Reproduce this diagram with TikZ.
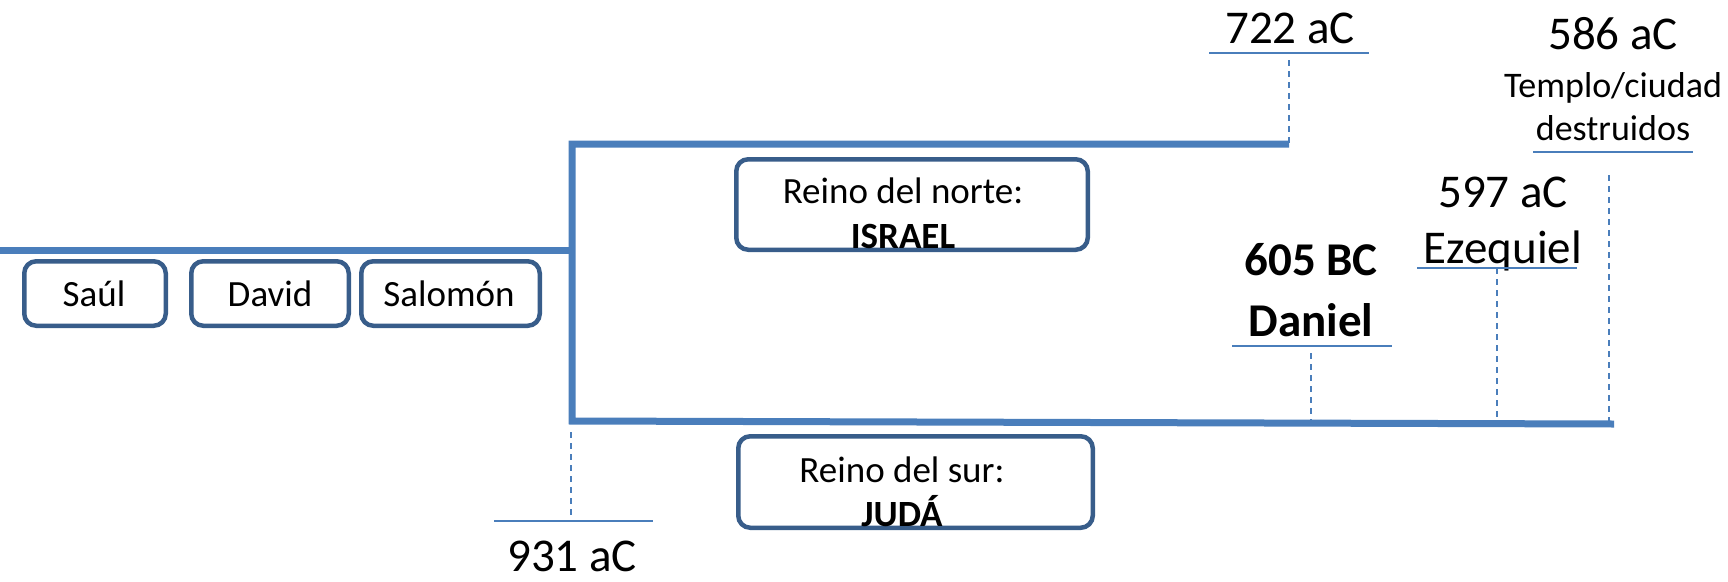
\documentclass[tikz,border=0pt]{standalone}
\usepackage{fontspec}
\setmainfont{Carlito}
\definecolor{lineblue}{HTML}{4A7EBB}
\definecolor{boxblue}{HTML}{385D8A}
\begin{document}
\begin{tikzpicture}[x=1pt,y=-1pt,
  mainline/.style={draw=lineblue,line width=7pt,line join=miter},
  tickline/.style={draw=lineblue,line width=1.6pt},
  guide/.style={draw=lineblue,line width=1.6pt,dash pattern=on 6pt off 5pt},
  kbox/.style={draw=boxblue,line width=4.5pt,rounded corners=12pt,fill=white,inner sep=0pt,minimum height=64.5pt},
  bigtxt/.style={font=\fontsize{47}{56}\selectfont,inner sep=0pt,anchor=base},
  bigbold/.style={font=\fontsize{47}{56}\selectfont\bfseries,inner sep=0pt,anchor=base},
  boxtxt/.style={font=\fontsize{37}{44}\selectfont,inner sep=0pt,anchor=base},
  boxbold/.style={font=\fontsize{37}{44}\selectfont\bfseries,inner sep=0pt,anchor=base},
  midtxt/.style={font=\fontsize{36}{43}\selectfont,inner sep=0pt,anchor=base}]
\useasboundingbox (0,0) rectangle (1728,581);

% main timeline
\coordinate (L0) at (0,250);
\coordinate (J) at (572,250);
\coordinate (Vt) at (572,144);
\coordinate (Vb) at (572,421);
\coordinate (T1) at (1289,144);
\coordinate (B1) at (1614,424);
\draw[mainline] (L0) -- (J);
\draw[mainline] (T1) -- (Vt) -- (Vb) -- (B1);

% kings boxes
\node[kbox,minimum width=141.5pt] (saulbox) at (95,293.5) {};
\node[kbox,minimum width=157.5pt] (davidbox) at (270,293.5) {};
\node[kbox,minimum width=178.5pt] (salbox) at (450.5,293.5) {};
\node[boxtxt] (saul) at (94,306) {Saúl};
\node[boxtxt] (david) at (270,306) {David};
\node[boxtxt] (salomon) at (449,306) {Salomón};

% kingdoms
\node[kbox,minimum width=351.5pt,minimum height=90.5pt] (nortebox) at (912,204.5) {};
\node[boxtxt] (norte1) at (903,203) {Reino del norte:};
\node[boxbold] (norte2) at (903,248) {ISRAEL};
\node[kbox,minimum width=354.5pt,minimum height=91.5pt] (surbox) at (915.5,482) {};
\node[boxtxt] (sur1) at (902,482) {Reino del sur:};
\node[boxbold] (sur2) at (902,526) {JUDÁ};

% 722 aC
\node[bigtxt] (t722) at (1290,43) {722 aC};
\coordinate (u722a) at (1209,52.7);
\coordinate (u722b) at (1369,52.7);
\coordinate (d722) at (1289,60);
\draw[tickline] (u722a) -- (u722b);
\draw[guide] (d722) -- (T1);

% 586 aC
\node[bigtxt] (t586) at (1613,49) {586 aC};
\node[midtxt] (templo) at (1613,97) {Templo/ciudad};
\node[midtxt] (destr) at (1613,140) {destruidos};
\coordinate (u586a) at (1533,152);
\coordinate (u586b) at (1693,152);
\coordinate (d586t) at (1609,175);
\coordinate (d586b) at (1609,424);
\draw[tickline] (u586a) -- (u586b);
\draw[guide] (d586t) -- (d586b);

% 597 aC
\node[bigtxt] (t597) at (1503,207) {597 aC};
\node[bigtxt] (ezeq) at (1503,263) {Ezequiel};
\coordinate (u597a) at (1417,268);
\coordinate (u597b) at (1577,268);
\coordinate (d597t) at (1497,268);
\coordinate (d597b) at (1497,423);
\draw[tickline] (u597a) -- (u597b);
\draw[guide] (d597t) -- (d597b);

% 605 BC
\node[bigbold] (t605) at (1311,275) {605 BC};
\node[bigbold] (daniel) at (1311,336) {Daniel};
\coordinate (u605a) at (1232,346);
\coordinate (u605b) at (1392,346);
\coordinate (d605t) at (1311,353);
\coordinate (d605b) at (1311,423);
\draw[tickline] (u605a) -- (u605b);
\draw[guide] (d605t) -- (d605b);

% 931 aC
\node[bigtxt] (t931) at (572,571) {931 aC};
\coordinate (u931a) at (494,521);
\coordinate (u931b) at (653,521);
\coordinate (d931t) at (571,432);
\coordinate (d931b) at (571,521);
\draw[tickline] (u931a) -- (u931b);
\draw[guide] (d931t) -- (d931b);
\end{tikzpicture}
\end{document}
